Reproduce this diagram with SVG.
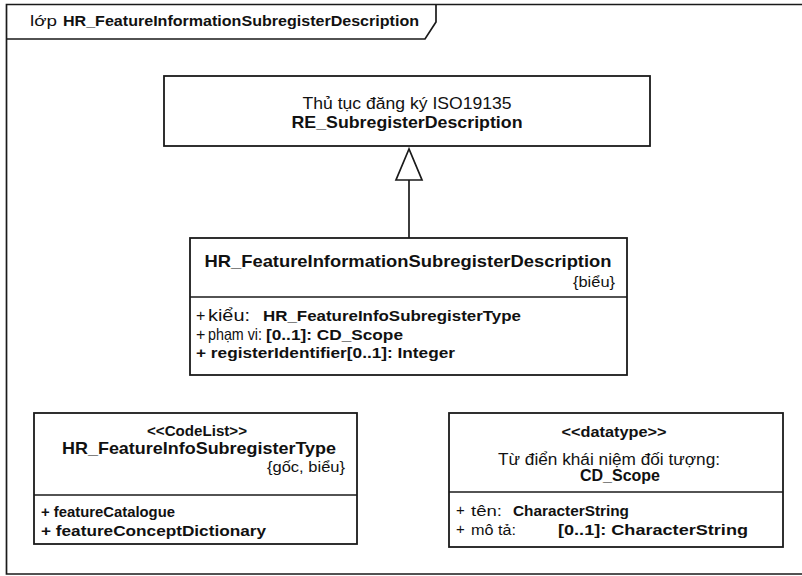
<svg xmlns="http://www.w3.org/2000/svg" width="802" height="576" viewBox="0 0 802 576">
  <style>
    .box { fill: #ffffff; stroke: #1a1a1a; stroke-width: 1.8; }
    .sep { stroke: #1a1a1a; stroke-width: 1.5; fill: none; }
    .line { stroke: #1a1a1a; stroke-width: 1.7; fill: none; }
    text { font-family: "Liberation Sans", Arial, sans-serif; fill: #111111; }
    .b { font-weight: bold; }
    .c { text-anchor: middle; }
    .r { text-anchor: end; }
  </style>

  <rect width="802" height="576" fill="#ffffff"/>

  <!-- package frame with name tab -->
  <g id="frame">
    <path class="line" d="M802,4.5 H6.5 V574 H802"/>
    <path class="line" d="M6.5,39 H425 L436,22 V4.5"/>
    <text x="30" y="26" font-size="15"><tspan textLength="27" lengthAdjust="spacingAndGlyphs">lớp</tspan><tspan class="b" x="63" textLength="356" lengthAdjust="spacingAndGlyphs">HR_FeatureInformationSubregisterDescription</tspan></text>
  </g>

  <!-- generalization connector -->
  <g id="connectors">
    <line class="line" x1="409" y1="180" x2="409" y2="238"/>
    <polygon points="409,149 396,180 422,180" fill="#ffffff" stroke="#1a1a1a" stroke-width="1.7"/>
  </g>

  <g id="RE_SubregisterDescription">
    <rect class="box" x="164" y="76" width="486" height="70"/>
    <text class="c" x="407" y="109" font-size="16.5" textLength="209" lengthAdjust="spacingAndGlyphs">Thủ tục đăng ký ISO19135</text>
    <text class="c b" x="407" y="128" font-size="16.5" textLength="231" lengthAdjust="spacingAndGlyphs">RE_SubregisterDescription</text>
  </g>

  <g id="HR_FeatureInformationSubregisterDescription">
    <rect class="box" x="190" y="238" width="437" height="137"/>
    <line class="sep" x1="190" y1="297" x2="627" y2="297"/>
    <text class="c b" x="408" y="267" font-size="17" textLength="407" lengthAdjust="spacingAndGlyphs">HR_FeatureInformationSubregisterDescription</text>
    <text class="r" x="615" y="287" font-size="15.5" textLength="42" lengthAdjust="spacingAndGlyphs">{biểu}</text>
    <text x="196" y="321" font-size="16">+</text>
    <text x="208" y="321" font-size="16.5" textLength="42" lengthAdjust="spacingAndGlyphs">kiểu:</text>
    <text class="b" x="263" y="321" font-size="15" textLength="258" lengthAdjust="spacingAndGlyphs">HR_FeatureInfoSubregisterType</text>
    <text x="196" y="340" font-size="16">+</text>
    <text x="208" y="340" font-size="16.5" textLength="54" lengthAdjust="spacingAndGlyphs">phạm vi:</text>
    <text class="b" x="266" y="340" font-size="15" textLength="137" lengthAdjust="spacingAndGlyphs">[0..1]: CD_Scope</text>
    <text class="b" x="196" y="358" font-size="15" textLength="259" lengthAdjust="spacingAndGlyphs">+ registerIdentifier[0..1]: Integer</text>
  </g>

  <g id="HR_FeatureInfoSubregisterType">
    <rect class="box" x="34" y="413" width="323" height="131"/>
    <line class="sep" x1="34" y1="495" x2="357" y2="495"/>
    <text class="c b" x="197" y="436" font-size="15" textLength="100" lengthAdjust="spacingAndGlyphs">&lt;&lt;CodeList&gt;&gt;</text>
    <text class="c b" x="199" y="454" font-size="16.5" textLength="274" lengthAdjust="spacingAndGlyphs">HR_FeatureInfoSubregisterType</text>
    <text class="r" x="345" y="472" font-size="15.5" textLength="78" lengthAdjust="spacingAndGlyphs">{gốc, biểu}</text>
    <text class="b" x="41" y="517" font-size="15" textLength="134" lengthAdjust="spacingAndGlyphs">+ featureCatalogue</text>
    <text class="b" x="41" y="536" font-size="15" textLength="225" lengthAdjust="spacingAndGlyphs">+ featureConceptDictionary</text>
  </g>

  <g id="CD_Scope">
    <rect class="box" x="449" y="413" width="334" height="134"/>
    <line class="sep" x1="449" y1="492" x2="783" y2="492"/>
    <text class="c b" x="614" y="437" font-size="15" textLength="105" lengthAdjust="spacingAndGlyphs">&lt;&lt;datatype&gt;&gt;</text>
    <text class="c" x="609" y="465" font-size="16" textLength="222" lengthAdjust="spacingAndGlyphs">Từ điển khái niệm đối tượng:</text>
    <text class="c b" x="620" y="481" font-size="16" textLength="80" lengthAdjust="spacingAndGlyphs">CD_Scope</text>
    <text x="456" y="515" font-size="15">+</text>
    <text x="471" y="516" font-size="15.5" textLength="31" lengthAdjust="spacingAndGlyphs">tên:</text>
    <text class="b" x="513" y="516" font-size="15" textLength="116" lengthAdjust="spacingAndGlyphs">CharacterString</text>
    <text x="456" y="534" font-size="15">+</text>
    <text x="471" y="535" font-size="15.5" textLength="45" lengthAdjust="spacingAndGlyphs">mô tả:</text>
    <text class="b" x="558" y="535" font-size="15" textLength="190" lengthAdjust="spacingAndGlyphs">[0..1]: CharacterString</text>
  </g>
</svg>
